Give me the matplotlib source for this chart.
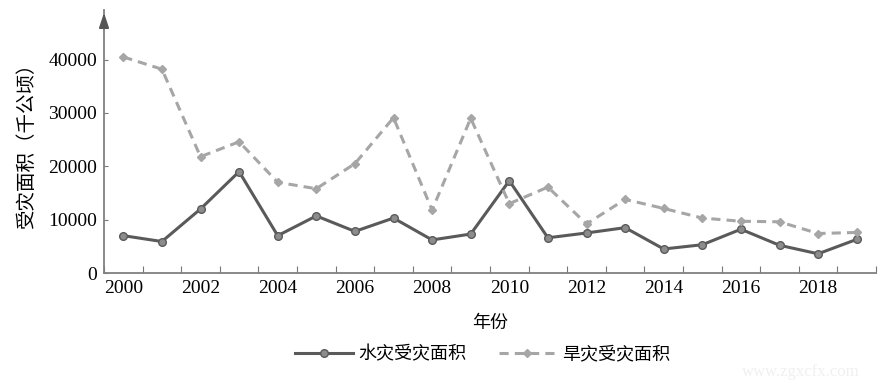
import numpy as np
import matplotlib.pyplot as plt

plt.rcParams['font.family'] = ['Liberation Serif', 'Noto Sans CJK SC']

# Données
annees = list(range(2000, 2020))
inondation = [7000, 5900, 12000, 19000, 7000, 10700, 7800, 10300, 6200, 7300,
              17300, 6600, 7500, 8500, 4500, 5300, 8200, 5200, 3600, 6300]
secheresse = [40500, 38200, 21800, 24600, 17000, 15800, 20500, 29100, 11800, 29000,
              13000, 16100, 9200, 13800, 12100, 10300, 9700, 9600, 7400, 7600]
etiquettes_x = [str(a) for a in range(2000, 2020, 2)]
ticks_y = [0, 10000, 20000, 30000, 40000]

x = np.arange(len(annees))
cjk = ['Noto Sans CJK SC']

fig = plt.figure(figsize=(8.8, 3.85), dpi=100)
ax = fig.add_axes([104 / 880, 112 / 385, 772 / 880, 263 / 385])

ax.plot(x, inondation, color='#5a5a5a', lw=2.2, marker='o', ms=5.5,
        mfc='#8c8c8c', mec='#5a5a5a', mew=1.0, label='水灾受灾面积')
ax.plot(x, secheresse, color='#a6a6a6', lw=2.2, ls=(0, (3, 2)), marker='D', ms=4,
        mfc='#a6a6a6', mec='#a6a6a6', label='旱灾受灾面积')

ax.set_xlim(-0.5, 19.5)
ax.set_ylim(0, 49300)

# graduations aux limites des catégories, étiquettes au centre
ax.set_xticks(np.arange(-0.5, 20, 1.0))
ax.set_xticklabels([])
ax.set_xticks(np.arange(0, 20, 2), minor=True)
ax.set_xticklabels(etiquettes_x, minor=True, fontsize=14)
ax.tick_params(axis='x', which='major', direction='in', length=5, color='#777777')
ax.tick_params(axis='x', which='minor', length=0, pad=5)
ax.set_yticks(ticks_y)
ax.set_yticklabels([str(v) for v in ticks_y], fontsize=14)
ax.tick_params(axis='y', direction='in', length=3, color='#777777', pad=5)

for s in ['top', 'right']:
    ax.spines[s].set_visible(False)
for s in ['left', 'bottom']:
    ax.spines[s].set_color('#808080')
    ax.spines[s].set_linewidth(1.3)

# flèche en haut de l'axe y
ax.annotate('', xy=(0, 1.0), xycoords='axes fraction', xytext=(0, 0.92),
            arrowprops=dict(arrowstyle='-|>,head_length=0.9,head_width=0.3',
                            color='#555555', lw=1.3, mutation_scale=10))

ax.set_ylabel('受灾面积（千公顷）', family=cjk, fontsize=14, labelpad=8)
ax.set_xlabel('年份', family=cjk, fontsize=13, labelpad=12)

leg = ax.legend(loc='upper center', bbox_to_anchor=(0.49, -0.215), ncol=2, frameon=False,
                prop={'family': cjk, 'size': 13}, handlelength=3.2, columnspacing=1.8,
                handletextpad=0.3)

fig.text(0.91, 0.035, 'www.zgxcfx.com', fontsize=12, color='#f0f0f0',
         ha='center', va='center', family='Liberation Serif')

fig.savefig('out.png', dpi=100)
